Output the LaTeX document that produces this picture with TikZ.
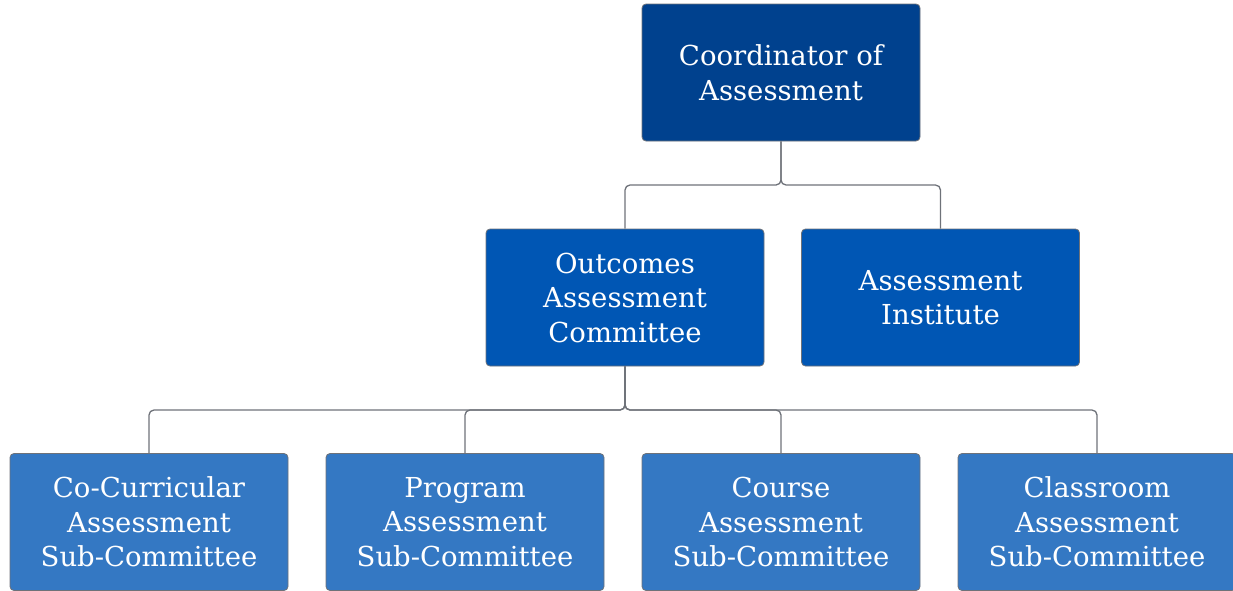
\documentclass[tikz,border=0pt]{standalone}
\usepackage{fontspec}
\setmainfont{DejaVu Serif}
\definecolor{topblue}{HTML}{00418E}
\definecolor{midblue}{HTML}{0056B4}
\definecolor{lowblue}{HTML}{3478C3}
\definecolor{edgegray}{HTML}{6E7279}
\tikzset{
  box/.style={rectangle, rounded corners=4pt, draw=edgegray, line width=0.8pt,
    minimum width=278pt, minimum height=137pt, inner sep=0pt, align=center,
    text=white, font=\fontsize{27.5}{34.5}\selectfont},
  link/.style={draw=edgegray, line width=1.3pt, rounded corners=5pt}
}
\begin{document}
\begin{tikzpicture}[x=1pt,y=-1pt]
\useasboundingbox (0,0) rectangle (1233,590);
\clip (0,0) rectangle (1233,590);
\node[box, fill=topblue] (coord) at (781,72.5) {Coordinator of\\Assessment};
\node[box, fill=midblue] (oac) at (625,297.5) {Outcomes\\Assessment\\Committee};
\node[box, fill=midblue] (inst) at (940.5,297.5) {Assessment\\Institute};
\node[box, fill=lowblue] (cc) at (149,522) {Co-Curricular\\Assessment\\Sub-Committee};
\node[box, fill=lowblue] (prog) at (465,522) {Program\\Assessment\\Sub-Committee};
\node[box, fill=lowblue] (course) at (781,522) {Course\\Assessment\\Sub-Committee};
\node[box, fill=lowblue] (class) at (1097,522) {Classroom\\Assessment\\Sub-Committee};
\coordinate (j1) at (781,185);
\coordinate (j2) at (625,410);
\path[link] (coord.south) -- (j1) -| (oac.north);
\path[link] (coord.south) -- (j1) -| (inst.north);
\path[link] (oac.south) -- (j2) -| (cc.north);
\path[link] (oac.south) -- (j2) -| (prog.north);
\path[link] (oac.south) -- (j2) -| (course.north);
\path[link] (oac.south) -- (j2) -| (class.north);
\end{tikzpicture}
\end{document}
